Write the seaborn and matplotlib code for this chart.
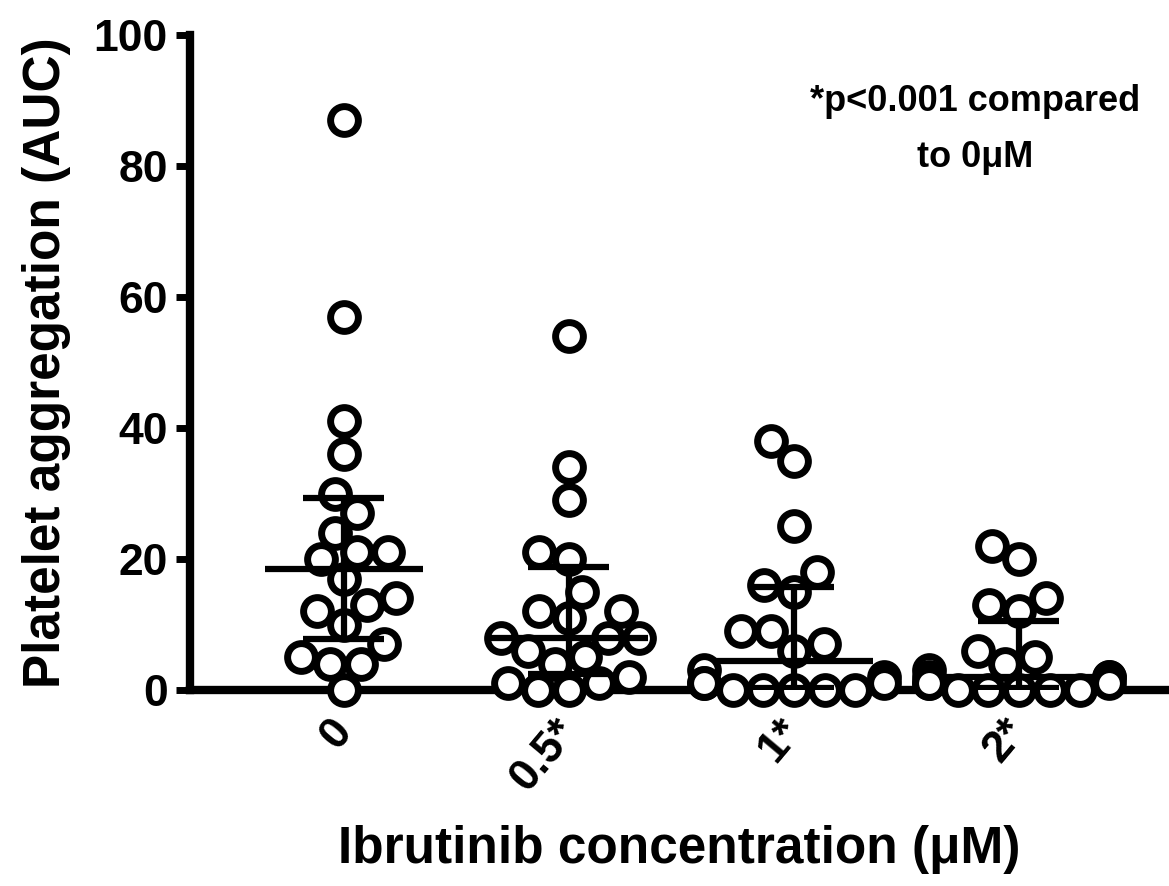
import matplotlib
matplotlib.use("Agg")
import matplotlib.pyplot as plt
import numpy as np
import pandas as pd
import seaborn as sns

groups = ["0", "0.5*", "1*", "2*"]
auc_0 = [87, 57, 41, 36, 30, 27, 24, 21, 21, 20, 17, 14, 13, 12, 10, 7, 5, 4, 4, 0]
auc_05 = [54, 34, 29, 21, 20, 15, 12, 12, 11, 8, 8, 8, 6, 5, 4, 2, 1, 1, 0, 0]
auc_1 = [38, 35, 25, 18, 16, 15, 9, 9, 7, 6, 3, 2, 1, 1, 1, 0, 0, 0, 0, 0]
auc_2 = [22, 20, 14, 13, 12, 6, 5, 4, 3, 2, 2, 2, 1, 1, 1, 0, 0, 0, 0, 0]
values = [auc_0, auc_05, auc_1, auc_2]

df = pd.DataFrame({
    "conc": np.repeat(groups, [len(v) for v in values]),
    "auc": np.concatenate(values),
})

sns.set_style("white")
plt.rcParams["font.family"] = ["Liberation Sans", "DejaVu Sans"]
plt.rcParams["font.weight"] = "bold"
plt.rcParams["text.color"] = "black"
plt.rcParams["axes.labelcolor"] = "black"

fig = plt.figure(figsize=(11.69, 8.86), dpi=100)
ax = fig.add_axes([0.1625, 0.2212, 0.8375, 0.7393])

sns.swarmplot(data=df, x="conc", y="auc", order=groups, ax=ax, size=17,
              color="white", edgecolor="black", linewidth=4, warn_thresh=1)

ax.set_xlim(-0.684, 3.667)
ax.set_ylim(0, 100)

# lay the swarm out once, then freeze it and draw the rings a bit bigger
# so neighbouring circles overlap like in the original figure
fig.canvas.draw()
for coll in ax.collections:
    if "draw" in coll.__dict__:
        del coll.draw
    coll.set_sizes([20 ** 2])
    coll.set_linewidth(5)
    coll.set_clip_on(False)

# median + interquartile range
for i, v in enumerate(values):
    q1, med, q3 = np.percentile(v, [25, 50, 75], method="weibull")
    ax.hlines(med, i - 0.35, i + 0.35, color="black", lw=4.5, zorder=5)
    ax.hlines([q1, q3], i - 0.18, i + 0.18, color="black", lw=4.5, zorder=5)
    ax.vlines(i, q1, q3, color="black", lw=4.5, zorder=5)

ax.set_xlim(-0.684, 3.667)
ax.set_ylim(0, 100)
ax.set_yticks([0, 20, 40, 60, 80, 100])
sns.despine(ax=ax)
ax.spines["left"].set_linewidth(6)
ax.spines["bottom"].set_linewidth(6)
ax.spines["left"].set_color("black")
ax.spines["bottom"].set_color("black")

ax.tick_params(axis="y", direction="out", length=10, width=5, labelsize=32,
               pad=6, left=True, colors="black")
ax.tick_params(axis="x", direction="out", length=9, width=5, labelsize=32,
               pad=16, bottom=True, colors="black")
for lab in ax.get_xticklabels():
    lab.set_rotation(50)
    lab.set_ha("right")
    lab.set_va("center")
    lab.set_rotation_mode("anchor")
    lab.set_fontweight("bold")
for lab in ax.get_yticklabels():
    lab.set_fontweight("bold")

ax.set_xlabel("Ibrutinib concentration (\u03bcM)", fontsize=37, fontweight="bold",
              labelpad=19)
ax.set_ylabel("Platelet aggregation (AUC)", fontsize=37, fontweight="bold",
              labelpad=16)

ax.text(0.802, 0.856, "*p<0.001 compared\nto 0\u03bcM", transform=ax.transAxes,
        ha="center", va="center", fontsize=26, fontweight="bold",
        linespacing=1.8)

fig.savefig("out.png", dpi=100)
